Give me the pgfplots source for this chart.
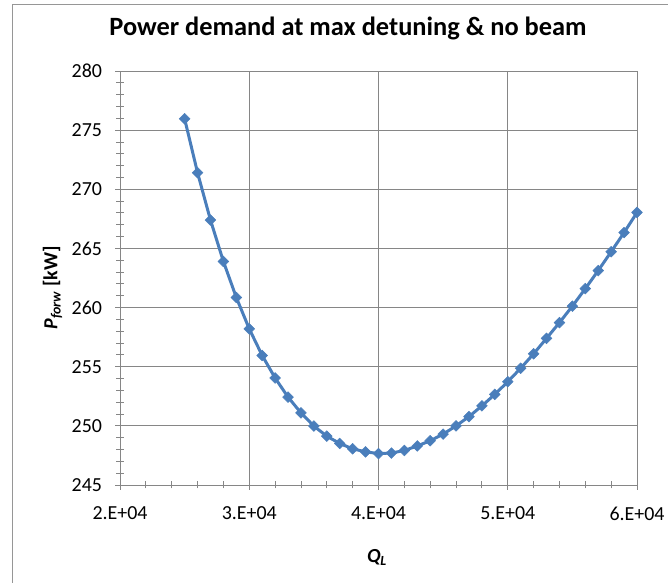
\documentclass[border=0pt]{standalone}
\usepackage{fontspec}
\setmainfont{Carlito}
\usepackage{pgfplots}
\pgfplotsset{compat=1.18}
\usetikzlibrary{calc}
\definecolor{lineblue}{RGB}{74,126,187}
\definecolor{gridgray}{RGB}{134,134,134}
\definecolor{framegray}{RGB}{150,150,150}
\begin{document}
\begin{tikzpicture}[x=1bp,y=1bp]
\begin{axis}[
  scale only axis, width=517bp, height=414bp,
  xmin=20000, xmax=60000, ymin=245, ymax=280,
  xtick={20000,30000,40000,50000,60000},
  xticklabels={2.E+04,3.E+04,4.E+04,5.E+04,6.E+04},
  ytick={245,250,...,280},
  minor x tick num=4, minor y tick num=4,
  scaled x ticks=false,
  xtick pos=bottom, ytick pos=left,
  grid=major,
  major grid style={gridgray, line width=0.9bp},
  axis line style={gridgray, line width=0.9bp},
  every tick/.style={gridgray, line width=0.9bp},
  tick align=center,
  major tick length=9bp, minor tick length=7bp,
  /pgf/number format/assume math mode=true,
  tick label style={font=\fontsize{20}{22}\selectfont, black},
  xticklabel style={yshift=-14bp},
  yticklabel style={xshift=-10bp},
  title={Power demand at max detuning \& no beam},
  title style={font=\fontsize{26.5}{28}\selectfont\bfseries, at={(axis description cs:0.441,1.0715)}, anchor=base},
  xlabel={\textit{Q\textsubscript{L}}},
  ylabel={\textit{P\textsubscript{forw}} [kW]},
  every axis x label/.style={at={(axis description cs:0.497,-0.186)}, anchor=base, font=\fontsize{20}{22}\selectfont\bfseries},
  every axis y label/.style={at={(axis description cs:-0.121,0.476)}, rotate=90, anchor=base, font=\fontsize{20}{22}\selectfont\bfseries},
]
\addplot[lineblue, line width=3bp, mark=square*, mark size=3.8bp, mark options={rotate=45, fill=lineblue, draw=lineblue, line width=0.5bp}] coordinates {
(25000,275.96) (26000,271.4) (27000,267.4) (28000,263.9) (29000,260.85)
(30000,258.2) (31000,255.95) (32000,254.05) (33000,252.43) (34000,251.1)
(35000,249.98) (36000,249.13) (37000,248.51) (38000,248.06) (39000,247.8)
(40000,247.66) (41000,247.7) (42000,247.92) (43000,248.3) (44000,248.74)
(45000,249.3) (46000,250.0) (47000,250.78) (48000,251.69) (49000,252.66)
(50000,253.73) (51000,254.87) (52000,256.09) (53000,257.4) (54000,258.73)
(55000,260.12) (56000,261.6) (57000,263.13) (58000,264.72) (59000,266.34)
(60000,268.04)
};
\coordinate (SW) at (rel axis cs:0,0);
\end{axis}
\pgfresetboundingbox
\useasboundingbox ($(SW)+(-120,485)$) rectangle ($(SW)+(548,-98)$);
\draw[framegray, line width=1bp] ($(SW)+(-107.3,480)$) rectangle ($(SW)+(600,-150)$);
\end{tikzpicture}
\end{document}
